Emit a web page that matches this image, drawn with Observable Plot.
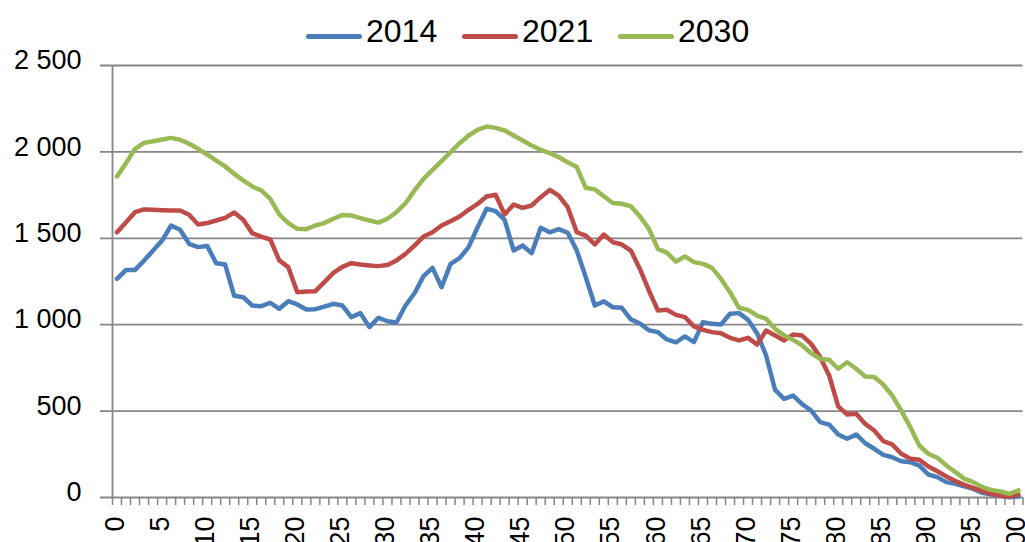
<!DOCTYPE html>
<html>
<head>
<meta charset="utf-8">
<script src="https://cdn.jsdelivr.net/npm/d3@7"></script>
<script src="https://cdn.jsdelivr.net/npm/@observablehq/plot@0.6"></script>
<style>
  html, body { margin: 0; padding: 0; background: #fff; overflow: hidden; }
  body { width: 1025px; height: 542px; font-family: "Liberation Sans", Arial, sans-serif; }
  #legend { position: relative; width: 1025px; height: 60px; }
  #legend .sw { position: absolute; height: 5px; border-radius: 3px; width: 56px; top: 34px; }
  #legend .lb { position: absolute; font-size: 32px; line-height: 32px; top: 15px; color: #000; }
</style>
</head>
<body>
<div id="legend"></div>
<div id="chart"></div>
<script>
const ages = d3.range(0, 101);
const seriesNames = ["2014", "2021", "2030"];
const seriesColors = ["#4A7EBB", "#BE4B48", "#98B954"];
const v2014 = [1265,1317,1317,1371,1429,1487,1574,1549,1468,1449,
  1456,1356,1348,1167,1159,1111,1107,1127,1092,1136,
  1117,1088,1090,1105,1121,1111,1044,1067,986,1040,
  1020,1013,1111,1182,1281,1329,1217,1352,1385,1449,
  1564,1671,1657,1607,1429,1458,1414,1561,1535,1553,
  1532,1429,1275,1111,1135,1101,1098,1031,1007,968,
  957,915,898,932,899,1015,1005,1001,1063,1067,
  1028,951,822,623,571,590,540,503,436,422,
  365,340,365,314,282,247,233,210,204,185,
  133,118,89,79,64,50,27,17,10,2,
  6];
const v2021 = [1535,1593,1651,1667,1665,1663,1661,1661,1636,1580,
  1588,1603,1618,1649,1607,1530,1510,1493,1372,1333,
  1188,1192,1194,1246,1300,1335,1356,1348,1343,1339,
  1346,1372,1410,1458,1510,1535,1574,1599,1626,1665,
  1699,1742,1752,1638,1695,1676,1690,1738,1780,1747,
  1680,1535,1516,1464,1522,1478,1464,1429,1323,1198,
  1082,1086,1057,1044,990,970,957,951,924,909,
  924,885,966,938,909,943,937,889,812,706,
  527,480,484,426,388,326,307,253,224,218,
  179,152,122,95,73,56,37,21,10,5,
  17];
const v2030 = [1858,1935,2018,2052,2062,2072,2081,2070,2047,2018,
  1985,1950,1916,1873,1835,1800,1777,1728,1638,1588,
  1555,1553,1574,1588,1613,1635,1632,1617,1603,1591,
  1613,1651,1703,1777,1844,1896,1946,1998,2050,2095,
  2128,2147,2139,2124,2095,2066,2037,2012,1993,1970,
  1940,1912,1792,1783,1743,1704,1700,1685,1627,1555,
  1439,1417,1365,1395,1362,1352,1329,1265,1188,1098,
  1086,1053,1034,976,938,912,880,835,802,797,
  745,783,745,700,697,654,590,503,407,301,
  253,230,185,147,108,89,60,44,35,21,
  41];
const yTicks = [0, 500, 1000, 1500, 2000, 2500];
const xLabels = [0,5,10,15,20,25,30,35,40,45,50,55,60,65,70,75,80,85,90,95,100];

// legend
const legendPos = [[306, 366], [462, 522], [618, 678]];
const lg = document.getElementById("legend");
seriesNames.forEach((n, i) => {
  const sw = document.createElement("div");
  sw.className = "sw"; sw.style.left = legendPos[i][0] + "px"; sw.style.background = seriesColors[i];
  lg.appendChild(sw);
  const lb = document.createElement("span");
  lb.className = "lb"; lb.style.left = legendPos[i][1] + "px"; lb.textContent = n;
  lg.appendChild(lb);
});

const allValues = [v2014, v2021, v2030];
const data = [];
allValues.forEach((arr, s) => arr.forEach((v, i) => data.push({age: ages[i], value: v, series: seriesNames[s]})));

const fmt = d3.formatLocale({decimal: ",", thousands: "\u00a0", grouping: [3], currency: ["", ""]}).format(",");
const xDom = [-0.5, 100.5];
const pxPerX = (1022.5 - 112) / 101;
const pxPerY = 432 / 2500;
const boundaries = d3.range(-0.5, 101, 1);
const grid = "#868686";

const chart = Plot.plot({
  width: 1025,
  height: 482,
  marginTop: 5,
  marginBottom: 45,
  marginLeft: 112,
  marginRight: 2.5,
  style: {fontFamily: "Liberation Sans, Arial, sans-serif", background: "#fff", color: "#000", overflow: "visible"},
  x: {domain: xDom, axis: null},
  y: {domain: [0, 2500], axis: null},
  color: {domain: seriesNames, range: seriesColors},
  marks: [
    Plot.ruleY(yTicks.filter(d => d > 0), {x1: xDom[0] - 12 / pxPerX, x2: xDom[1], stroke: grid, strokeWidth: 1.8}),
    Plot.ruleX([xDom[0]], {y1: 0, y2: 2500, stroke: grid, strokeWidth: 1.8}),
    Plot.ruleX(boundaries, {y1: 0, y2: -8 / pxPerY, stroke: grid, strokeWidth: 1.5}),
    Plot.ruleY([0], {x1: xDom[0] - 12 / pxPerX, x2: xDom[1], stroke: grid, strokeWidth: 1.8}),
    Plot.text(yTicks, {y: d => d, text: d => fmt(d), frameAnchor: "left", dx: -31, dy: -5, textAnchor: "end", lineAnchor: "middle", fontSize: 27, fill: "#000"}),
    Plot.text(xLabels, {x: d => d, text: d => String(d), frameAnchor: "bottom", dy: 19, dx: -2, rotate: -90, textAnchor: "end", lineAnchor: "middle", fontSize: 27, fill: "#000"}),
    Plot.line(data, {x: "age", y: "value", z: "series", stroke: "series", strokeWidth: 4.5, strokeLinejoin: "round", strokeLinecap: "round"})
  ]
});
document.getElementById("chart").appendChild(chart);
</script>
</body>
</html>
